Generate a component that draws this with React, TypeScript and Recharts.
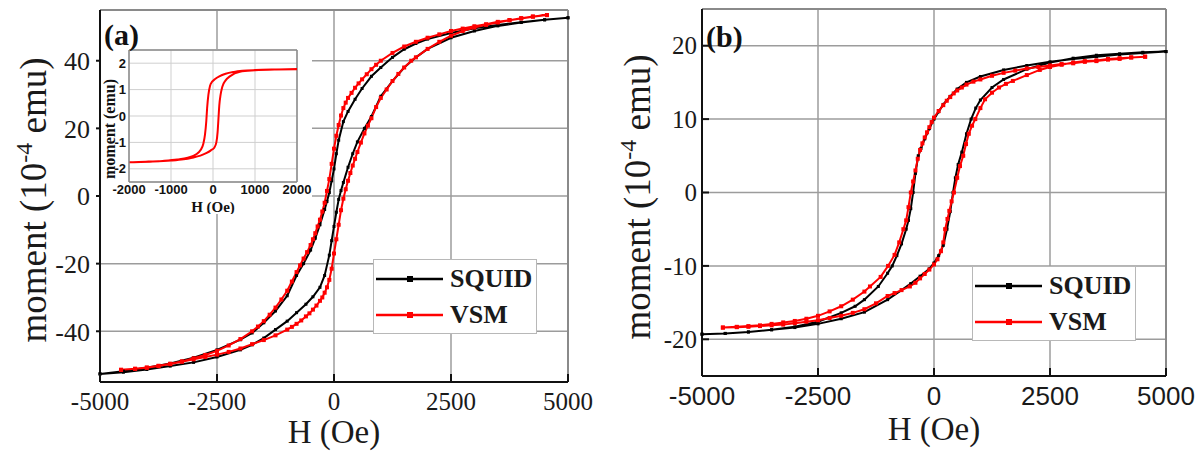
import React from "react";
import {
  LineChart,
  Line,
  XAxis,
  YAxis,
  CartesianGrid,
  ReferenceLine,
  Legend,
} from "recharts";

const SERIF = "'Liberation Serif', 'DejaVu Serif', serif";
const SANS = "'Liberation Sans', Arial, sans-serif";
const GRID = "#9c9c9c";

// tick labels
const fieldTicks = [-5000, -2500, 0, 2500, 5000];
const momentTicksA = [-40, -20, 0, 20, 40];
const momentTicksB = [-20, -10, 0, 10, 20];
const insetFieldTicks = [-2000, -1000, 0, 1000, 2000];
const insetMomentTicks = [-2, -1, 0, 1, 2];

// panel (a) — [H (Oe), moment (1e-4 emu)]
const aSquidDown = [
  [5000, 52.7], [4500, 52.1], [4000, 51.4], [3500, 50.6], [3000, 49.6], [2500, 48.2],
  [2000, 46.4], [1750, 45.1], [1500, 43.4], [1250, 41.0], [1000, 38.0], [800, 35.4],
  [600, 31.8], [450, 28.6], [300, 25.0], [200, 22.0], [100, 16.5], [50, 12.5], [0, 8.0],
  [-50, 4.5], [-100, 1.0], [-150, -1.6], [-200, -4.0], [-300, -8.5], [-400, -12.5],
  [-500, -16.0], [-650, -20.0], [-800, -23.5], [-1000, -29.5], [-1250, -34.0],
  [-1500, -37.5], [-1750, -40.5], [-2000, -42.5], [-2500, -45.5], [-3000, -47.8],
  [-3500, -49.5], [-4000, -50.8], [-4500, -51.8], [-5000, -52.6],
];
const aSquidUp = [
  [-5000, -52.6], [-4500, -52.1], [-4000, -51.3], [-3500, -50.3], [-3000, -49.2],
  [-2500, -47.6], [-2000, -45.5], [-1750, -44.0], [-1500, -42.0], [-1250, -39.5],
  [-1000, -37.0], [-800, -34.5], [-600, -32.0], [-450, -29.8], [-300, -27.0],
  [-200, -23.5], [-100, -17.5], [-50, -13.2], [0, -9.0], [50, -4.8], [100, -1.0],
  [150, 1.6], [200, 4.0], [300, 8.5], [400, 12.5], [500, 16.0], [650, 20.0], [800, 23.5],
  [1000, 29.5], [1250, 34.0], [1500, 38.0], [1750, 41.0], [2000, 43.5], [2500, 46.8],
  [3000, 48.8], [3500, 50.3], [4000, 51.3], [4500, 52.1], [5000, 52.7],
];
const aVsmDown = [
  [4550, 53.5], [4250, 53.0], [4000, 52.5], [3750, 52.0], [3500, 51.5], [3250, 50.8],
  [3000, 50.2], [2750, 49.5], [2500, 48.8], [2250, 47.8], [2000, 46.8], [1750, 45.6],
  [1500, 44.2], [1250, 42.3], [1000, 40.0], [900, 38.8], [800, 37.5], [700, 36.0],
  [600, 34.5], [525, 33.3], [450, 32.0], [375, 30.5], [300, 29.0], [250, 27.6],
  [200, 26.0], [150, 23.8], [100, 21.0], [50, 17.8], [0, 14.0], [-50, 9.5], [-100, 5.0],
  [-150, 1.5], [-200, -2.0], [-250, -4.6], [-300, -7.0], [-350, -9.0], [-400, -11.0],
  [-450, -12.8], [-500, -14.5], [-575, -16.6], [-650, -18.5], [-725, -20.5], [-800, -22.5],
  [-900, -25.3], [-1000, -28.0], [-1125, -30.6], [-1250, -33.0], [-1375, -35.1],
  [-1500, -37.0], [-1625, -38.6], [-1750, -40.0], [-2000, -42.3], [-2250, -44.2],
  [-2500, -45.8], [-2750, -47.0], [-3000, -48.0], [-3250, -48.9], [-3500, -49.6],
  [-3750, -50.2], [-4000, -50.7], [-4250, -51.1], [-4550, -51.4],
];
const aVsmUp = [
  [-4550, -51.4], [-4250, -51.1], [-4000, -50.8], [-3750, -50.3], [-3500, -49.7],
  [-3250, -49.0], [-3000, -48.3], [-2750, -47.6], [-2500, -46.9], [-2250, -46.1],
  [-2000, -45.1], [-1750, -43.8], [-1500, -42.6], [-1250, -41.2], [-1000, -39.5],
  [-900, -38.7], [-800, -37.8], [-700, -36.8], [-600, -35.6], [-525, -34.7],
  [-450, -33.6], [-375, -32.4], [-300, -31.0], [-250, -30.0], [-200, -28.6],
  [-150, -27.0], [-100, -24.8], [-50, -21.5], [0, -17.0], [50, -12.8], [100, -8.5],
  [150, -4.2], [200, -0.8], [250, 2.0], [300, 4.5], [350, 6.8], [400, 9.0], [450, 11.0],
  [500, 13.0], [575, 15.8], [650, 18.5], [725, 20.8], [800, 23.0], [900, 26.3],
  [1000, 29.0], [1125, 31.5], [1250, 34.0], [1375, 36.1], [1500, 38.0], [1650, 40.0],
  [1750, 41.0], [2000, 43.5], [2250, 45.6], [2500, 47.4], [2750, 48.8], [3000, 49.8],
  [3250, 50.6], [3500, 51.3], [3750, 52.0], [4000, 52.6], [4250, 53.1], [4550, 53.5],
];

// panel (b) — [H (Oe), moment (1e-4 emu)]
const bSquidDown = [
  [5000, 19.2], [4500, 19.0], [4000, 18.8], [3500, 18.5], [3000, 18.2], [2500, 17.8],
  [2000, 17.3], [1500, 16.7], [1000, 15.8], [700, 15.0], [500, 14.1], [350, 13.1],
  [200, 12.0], [100, 11.0], [0, 10.0], [-100, 8.7], [-200, 7.3], [-280, 6.0],
  [-340, 5.0], [-400, 2.6], [-450, 0.0], [-500, -2.2], [-550, -3.8], [-600, -5.0],
  [-700, -7.0], [-800, -8.6], [-900, -10.0], [-1000, -11.0], [-1200, -12.8],
  [-1500, -14.6], [-1700, -15.5], [-2000, -16.4], [-2500, -17.6], [-3000, -18.3],
  [-3500, -18.7], [-4000, -19.0], [-4500, -19.2], [-5000, -19.3],
];
const bSquidUp = [
  [-5000, -19.3], [-4500, -19.2], [-4000, -19.0], [-3500, -18.7], [-3000, -18.4],
  [-2500, -17.9], [-2000, -17.2], [-1500, -16.3], [-1000, -14.6], [-700, -13.3],
  [-500, -12.4], [-300, -11.4], [-100, -10.4], [0, -9.6], [100, -8.6], [200, -7.2],
  [280, -5.0], [350, -2.6], [410, 0.0], [460, 2.0], [520, 3.8], [600, 5.5], [700, 8.0],
  [800, 10.0], [900, 11.5], [1000, 12.6], [1250, 14.3], [1500, 15.4], [2000, 16.8],
  [2500, 17.7], [3000, 18.3], [3500, 18.7], [4000, 18.9], [4500, 19.1], [5000, 19.2],
];
const bVsmDown = [
  [4550, 18.5], [4250, 18.4], [4000, 18.2], [3750, 18.1], [3500, 17.9], [3250, 17.8],
  [3000, 17.6], [2750, 17.5], [2500, 17.3], [2250, 17.1], [2000, 16.9], [1750, 16.6],
  [1500, 16.3], [1250, 15.9], [1000, 15.4], [850, 15.1], [700, 14.7], [600, 14.3],
  [500, 13.9], [425, 13.5], [350, 13.0], [275, 12.5], [200, 11.9], [100, 11.1],
  [0, 10.2], [-50, 9.6], [-100, 8.9], [-150, 8.2], [-200, 7.5], [-250, 6.7], [-300, 5.8],
  [-350, 4.6], [-400, 3.0], [-450, 1.5], [-500, 0.0], [-550, -2.0], [-600, -3.8],
  [-660, -5.0], [-750, -6.8], [-850, -8.5], [-990, -10.0], [-1150, -11.5],
  [-1380, -12.8], [-1500, -13.5], [-1750, -14.6], [-2000, -15.5], [-2250, -16.2],
  [-2500, -16.8], [-2750, -17.2], [-3000, -17.5], [-3250, -17.7], [-3500, -17.9],
  [-3750, -18.1], [-4000, -18.2], [-4250, -18.3], [-4550, -18.4],
];
const bVsmUp = [
  [-4550, -18.4], [-4250, -18.35], [-4000, -18.3], [-3750, -18.2], [-3500, -18.1],
  [-3250, -18.0], [-3000, -17.8], [-2750, -17.6], [-2500, -17.4], [-2250, -17.1],
  [-2000, -16.8], [-1750, -16.4], [-1500, -15.9], [-1250, -15.1], [-1000, -14.1],
  [-850, -13.7], [-700, -13.3], [-520, -12.8], [-400, -12.3], [-300, -11.7],
  [-200, -11.1], [-100, -10.5], [0, -9.8], [75, -9.1], [150, -8.0], [200, -6.8],
  [240, -5.0], [290, -3.6], [330, -2.5], [380, -1.2], [430, 0.0], [500, 2.0],
  [560, 3.6], [630, 5.0], [690, 6.6], [750, 8.0], [820, 9.1], [890, 10.0], [1000, 11.5],
  [1100, 12.7], [1250, 13.6], [1400, 14.3], [1550, 14.8], [1700, 15.2], [2000, 16.0],
  [2280, 16.7], [2500, 17.1], [2750, 17.4], [3000, 17.7], [3250, 17.9], [3500, 18.0],
  [3750, 18.2], [4000, 18.3], [4250, 18.4], [4550, 18.5],
];

// inset of (a) — [H (Oe), moment (emu)]
const insetDown = [
  [2000, 1.77], [1500, 1.76], [1000, 1.74], [700, 1.71], [500, 1.67], [300, 1.6],
  [150, 1.5], [50, 1.4], [-20, 1.3], [-70, 1.15], [-110, 0.8], [-140, 0.3],
  [-160, -0.2], [-190, -0.7], [-230, -1.05], [-300, -1.3], [-400, -1.45],
  [-600, -1.58], [-850, -1.65], [-1200, -1.7], [-1600, -1.73], [-2000, -1.75],
];
const insetUp = [
  [-2000, -1.75], [-1500, -1.73], [-1000, -1.69], [-700, -1.64], [-500, -1.58],
  [-300, -1.5], [-150, -1.4], [-50, -1.3], [30, -1.2], [80, -1.0], [110, -0.6],
  [130, -0.1], [150, 0.4], [180, 0.8], [220, 1.1], [300, 1.35], [400, 1.5],
  [640, 1.68], [1000, 1.73], [1500, 1.76], [2000, 1.77],
];

const loop = (down: number[][], up: number[][]) =>
  [...down, ...up].map(([h, m]) => ({ h, m }));

const squareDot = (fill: string, size: number) => (p: any) => (
  <rect
    key={`dot-${p.index}`}
    x={p.cx - size / 2}
    y={p.cy - size / 2}
    width={size}
    height={size}
    fill={fill}
  />
);

const InTickX = (p: any) => {
  const { x, y, payload, gap, font, size } = p;
  return (
    <g>
      <line x1={x} x2={x} y1={y - gap} y2={y - gap - 8} stroke="#111" strokeWidth={2} />
      <text x={x} y={y} dy="0.71em" textAnchor="middle" fontFamily={font} fontSize={size} fill="#1a1a1a">
        {payload.value}
      </text>
    </g>
  );
};

const InTickY = (p: any) => {
  const { x, y, payload } = p;
  return (
    <g>
      <line x1={x + 5} x2={x + 12} y1={y} y2={y} stroke="#111" strokeWidth={2} />
      <text x={x} y={y} dy="0.35em" textAnchor="end" fontFamily={SERIF} fontSize={25} fill="#1a1a1a">
        {payload.value}
      </text>
    </g>
  );
};

const MomentTitle = (cx: number, cy: number) => () => (
  <text
    transform={`translate(${cx},${cy}) rotate(-90)`}
    textAnchor="middle"
    fontFamily={SERIF}
    fontSize={37}
    fill="#1a1a1a"
  >
    moment (10
    <tspan dy={-14} fontSize={24}>-4</tspan>
    <tspan dy={14}> emu)</tspan>
  </text>
);

const FieldTitle = (cx: number, baseline: number) => () => (
  <text x={cx} y={baseline} textAnchor="middle" fontFamily={SERIF} fontSize={33} fill="#1a1a1a">
    H (Oe)
  </text>
);

const LoopLegend = ({ payload }: any) => (
  <div
    style={{
      width: 164,
      height: 75,
      boxSizing: "border-box",
      border: "1px solid #b8b8b8",
      background: "#fff",
      fontFamily: SERIF,
      fontWeight: 700,
      fontSize: 26,
      color: "#1a1a1a",
      paddingTop: 1,
    }}
  >
    {(payload || []).map((e: any) => (
      <div key={e.value} style={{ display: "flex", alignItems: "center", height: 36 }}>
        <svg width={74} height={10} style={{ marginLeft: 2 }}>
          <line x1={0} y1={5} x2={67} y2={5} stroke={e.color} strokeWidth={2.5} />
          <rect x={31} y={2} width={6} height={6} fill={e.color} />
        </svg>
        <span style={{ lineHeight: "36px" }}>{e.value}</span>
      </div>
    ))}
  </div>
);

const Label = ({ text, left, top }: { text: string; left: number; top: number }) => (
  <div
    style={{
      position: "absolute",
      left,
      top,
      fontFamily: SERIF,
      fontWeight: 700,
      fontSize: 30,
      lineHeight: "30px",
      color: "#111",
    }}
  >
    {text}
  </div>
);

function PanelA() {
  return (
    <LineChart width={600} height={452} margin={{ top: 10, right: 32, left: 0, bottom: 0 }}>
      <CartesianGrid stroke={GRID} strokeWidth={1.5} />
      <XAxis
        type="number"
        dataKey="h"
        domain={[-5000, 5000]}
        ticks={fieldTicks}
        height={70}
        axisLine={{ stroke: "#111", strokeWidth: 2 }}
        tickLine={false}
        tickSize={0}
        tickMargin={10}
        tick={(p: any) => <InTickX {...p} gap={10} font={SERIF} size={25} />}
        label={FieldTitle(334, 443)}
      />
      <YAxis
        type="number"
        domain={[-55, 55]}
        ticks={momentTicksA}
        width={100}
        axisLine={{ stroke: "#111", strokeWidth: 2 }}
        tickLine={{ stroke: "#111", strokeWidth: 2 }}
        tickSize={4}
        tickMargin={6}
        tick={{ fontFamily: SERIF, fontSize: 26, fill: "#1a1a1a" }}
        label={MomentTitle(46, 200)}
      />
      <ReferenceLine y={55} stroke="#8a8a8a" strokeWidth={2} />
      <ReferenceLine x={5000} stroke="#8a8a8a" strokeWidth={2} />
      <Legend
        layout="horizontal"
        align="center"
        verticalAlign="middle"
        wrapperStyle={{ left: 373, top: 259, width: 164, height: 75 }}
        content={LoopLegend}
      />
      <Line
        name="SQUID"
        data={loop(aSquidDown, aSquidUp)}
        dataKey="m"
        type="linear"
        stroke="#000"
        strokeWidth={2}
        dot={squareDot("#000", 3)}
        activeDot={false}
        isAnimationActive={false}
      />
      <Line
        name="VSM"
        data={loop(aVsmDown, aVsmUp)}
        dataKey="m"
        type="linear"
        stroke="#ff0000"
        strokeWidth={2}
        dot={squareDot("#ff0000", 4)}
        activeDot={false}
        isAnimationActive={false}
      />
    </LineChart>
  );
}

function Inset() {
  return (
    <LineChart width={211} height={165} margin={{ top: 1, right: 15, left: 0, bottom: 0 }}>
      <CartesianGrid stroke="#cfcfcf" strokeWidth={1} />
      <XAxis
        type="number"
        dataKey="h"
        domain={[-2000, 2000]}
        ticks={insetFieldTicks}
        height={32}
        axisLine={{ stroke: "#8a8a8a", strokeWidth: 1.5 }}
        tickLine={false}
        tickSize={0}
        tickMargin={3}
        tick={{ fontFamily: SANS, fontWeight: 700, fontSize: 13, fill: "#111" }}
        interval={0}
        label={() => (
          <text x={112} y={163} textAnchor="middle" fontFamily={SERIF} fontWeight={700} fontSize={15} fill="#111">
            H (Oe)
          </text>
        )}
      />
      <YAxis
        type="number"
        domain={[-2.5, 2.5]}
        ticks={insetMomentTicks}
        width={28}
        axisLine={{ stroke: "#8a8a8a", strokeWidth: 1.5 }}
        tickLine={false}
        tickSize={0}
        tickMargin={3}
        tick={{ fontFamily: SANS, fontWeight: 700, fontSize: 13, fill: "#111" }}
        label={() => (
          <text
            transform="translate(14,80) rotate(-90)"
            textAnchor="middle"
            fontFamily={SERIF}
            fontWeight={700}
            fontSize={16}
            fill="#111"
          >
            moment (emu)
          </text>
        )}
      />
      <ReferenceLine y={2.5} stroke="#8a8a8a" strokeWidth={1.5} />
      <ReferenceLine x={2000} stroke="#8a8a8a" strokeWidth={1.5} />
      <Line
        data={loop(insetDown, insetUp)}
        dataKey="m"
        type="monotone"
        stroke="#ff0000"
        strokeWidth={2}
        dot={false}
        activeDot={false}
        isAnimationActive={false}
      />
    </LineChart>
  );
}

function PanelB() {
  return (
    <LineChart width={600} height={452} margin={{ top: 9, right: 34, left: 0, bottom: 0 }}>
      <CartesianGrid stroke={GRID} strokeWidth={1.5} />
      <XAxis
        type="number"
        dataKey="h"
        domain={[-5000, 5000]}
        ticks={fieldTicks}
        height={76}
        axisLine={{ stroke: "#111", strokeWidth: 2 }}
        tickLine={false}
        tickSize={0}
        tickMargin={11}
        tick={(p: any) => <InTickX {...p} gap={11} font={SANS} size={26} />}
        label={FieldTitle(334, 440)}
      />
      <YAxis
        type="number"
        domain={[-25, 25]}
        ticks={momentTicksB}
        width={102}
        axisLine={{ stroke: "#111", strokeWidth: 2 }}
        tickLine={false}
        tickSize={0}
        tickMargin={5}
        tick={(p: any) => <InTickY {...p} />}
        label={MomentTitle(50, 197)}
      />
      <ReferenceLine y={25} stroke="#8a8a8a" strokeWidth={2} />
      <ReferenceLine x={5000} stroke="#8a8a8a" strokeWidth={2} />
      <Legend
        layout="horizontal"
        align="center"
        verticalAlign="middle"
        wrapperStyle={{ left: 372, top: 266, width: 164, height: 75 }}
        content={LoopLegend}
      />
      <Line
        name="SQUID"
        data={loop(bSquidDown, bSquidUp)}
        dataKey="m"
        type="linear"
        stroke="#000"
        strokeWidth={2}
        dot={squareDot("#000", 3)}
        activeDot={false}
        isAnimationActive={false}
      />
      <Line
        name="VSM"
        data={loop(bVsmDown, bVsmUp)}
        dataKey="m"
        type="linear"
        stroke="#ff0000"
        strokeWidth={2}
        dot={squareDot("#ff0000", 4)}
        activeDot={false}
        isAnimationActive={false}
      />
    </LineChart>
  );
}

export default function App() {
  return (
    <div
      style={{
        position: "absolute",
        left: 0,
        top: 0,
        width: 1202,
        height: 452,
        background: "#fff",
        overflow: "hidden",
      }}
    >
      <div style={{ position: "absolute", left: 0, top: 0 }}>
        <PanelA />
      </div>
      <div style={{ position: "absolute", left: 101, top: 49, width: 211, height: 165, background: "#fff" }}>
        <Inset />
      </div>
      <div style={{ position: "absolute", left: 600, top: 0 }}>
        <PanelB />
      </div>
      <Label text="(a)" left={104} top={20} />
      <Label text="(b)" left={706} top={22} />
    </div>
  );
}
